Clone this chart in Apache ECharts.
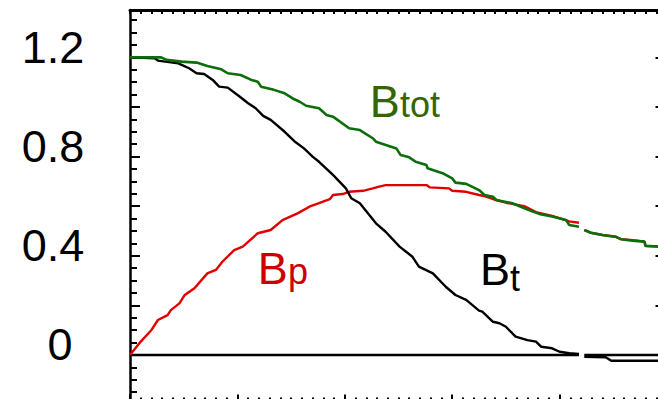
<!DOCTYPE html>
<html>
<head>
<meta charset="utf-8">
<script src="https://cdn.jsdelivr.net/npm/echarts@6/dist/echarts.min.js"></script>
<style>
  html, body { margin: 0; padding: 0; background: #fff; }
  #chart { width: 658px; height: 399px; }
</style>
</head>
<body>
<div id="chart"></div>
<script>
// Field components across the tube: total, poloidal and toroidal.
// Each entry is [position, field]; null marks the break in the sampled profile.
const bTotal = [
  [0.00, 1.200], [0.29, 1.200], [0.34, 1.190], [0.48, 1.183], [0.62, 1.179], [0.72, 1.165],
  [0.85, 1.152], [0.91, 1.136], [1.03, 1.129], [1.13, 1.109], [1.19, 1.102], [1.22, 1.082],
  [1.34, 1.069], [1.44, 1.055], [1.53, 1.031], [1.58, 1.021], [1.64, 1.005], [1.76, 0.995],
  [1.83, 0.968], [1.89, 0.961], [2.04, 0.914], [2.14, 0.907], [2.26, 0.874], [2.29, 0.860],
  [2.48, 0.833], [2.52, 0.806], [2.60, 0.797], [2.66, 0.779], [2.76, 0.766], [2.77, 0.753],
  [2.91, 0.733], [3.00, 0.712], [3.03, 0.695], [3.13, 0.690], [3.25, 0.665], [3.30, 0.645],
  [3.38, 0.638], [3.41, 0.625], [3.56, 0.612], [3.65, 0.596], [3.75, 0.578], [3.81, 0.569],
  [3.93, 0.558], [4.06, 0.544], [4.09, 0.524], [4.18, 0.517], [4.205, null], [4.23, 0.504],
  [4.29, 0.493], [4.40, 0.484], [4.52, 0.477], [4.57, 0.467], [4.68, 0.461], [4.79, 0.457],
  [4.80, 0.440], [4.93, 0.437]
];
const bPoloidal = [
  [0.00, 0.000], [0.10, 0.054], [0.20, 0.101], [0.26, 0.141], [0.35, 0.161], [0.38, 0.181],
  [0.46, 0.208], [0.51, 0.242], [0.60, 0.269], [0.72, 0.329], [0.80, 0.343], [0.86, 0.376],
  [0.97, 0.423], [1.05, 0.437], [1.19, 0.491], [1.31, 0.504], [1.42, 0.544], [1.56, 0.571],
  [1.67, 0.598], [1.76, 0.612], [1.86, 0.628], [1.89, 0.645], [1.98, 0.649], [2.04, 0.658],
  [2.17, 0.662], [2.26, 0.672], [2.32, 0.679], [2.38, 0.685], [2.76, 0.685], [2.79, 0.676],
  [2.97, 0.672], [3.00, 0.662], [3.13, 0.658], [3.25, 0.645], [3.30, 0.641], [3.39, 0.627],
  [3.50, 0.614], [3.67, 0.600], [3.78, 0.576], [3.93, 0.561], [4.09, 0.539], [4.18, 0.533],
  [4.205, null], [4.23, 0.504], [4.29, 0.493], [4.40, 0.484], [4.52, 0.477], [4.57, 0.467],
  [4.68, 0.463], [4.79, 0.457], [4.80, 0.440], [4.93, 0.437]
];
const bToroidal = [
  [0.00, 1.200], [0.23, 1.196], [0.26, 1.187], [0.45, 1.176], [0.55, 1.156], [0.62, 1.136],
  [0.69, 1.133], [0.77, 1.109], [0.83, 1.082], [0.91, 1.078], [1.02, 1.042], [1.10, 1.015],
  [1.17, 0.995], [1.24, 0.964], [1.31, 0.948], [1.44, 0.900], [1.53, 0.862], [1.62, 0.833],
  [1.70, 0.800], [1.76, 0.779], [1.89, 0.726], [2.01, 0.672], [2.06, 0.632], [2.14, 0.612],
  [2.29, 0.531], [2.38, 0.497], [2.51, 0.437], [2.63, 0.396], [2.69, 0.356], [2.82, 0.329],
  [2.94, 0.275], [3.03, 0.242], [3.13, 0.222], [3.25, 0.179], [3.28, 0.175], [3.38, 0.134],
  [3.44, 0.128], [3.50, 0.114], [3.59, 0.074], [3.70, 0.060], [3.78, 0.054], [3.83, 0.033],
  [3.93, 0.027], [4.00, 0.013], [4.09, 0.007], [4.18, 0.004], [4.205, null], [4.23, -0.007],
  [4.43, -0.009], [4.48, -0.023], [4.93, -0.023]
];
const zeroLevel = [[0.00, 0], [4.18, 0], [4.205, null], [4.23, 0], [4.93, 0]];
const yTickLabels = ['0', '0.4', '0.8', '1.2'];
const curveNames = {
  total: ['B', 'tot'],
  poloidal: ['B', 'p'],
  toroidal: ['B', 't']
};

const FONT = '"Liberation Sans", Arial, Helvetica, sans-serif';
const X_MIN = 0, X_MAX = 4.93, Y_MIN = -0.2, Y_MAX = 1.391;

const chart = echarts.init(document.getElementById('chart'), null, { renderer: 'svg' });

const tickStyle = { color: '#000', width: 2 };

function xAxisSide(position, major, minor, lineWidth) {
  return {
    type: 'value', position: position, min: X_MIN, max: X_MAX, interval: 1,
    axisLine: { show: true, onZero: false, lineStyle: { color: '#000', width: lineWidth } },
    axisTick: { show: true, inside: true, length: major, lineStyle: tickStyle },
    minorTick: { show: true, splitNumber: 10, length: minor, lineStyle: tickStyle },
    axisLabel: { show: false },
    splitLine: { show: false }, minorSplitLine: { show: false }
  };
}

function labelFor(v) {
  const hit = yTickLabels.find(t => Math.abs(parseFloat(t) - v) < 1e-6);
  if (hit === undefined) return '';
  return hit === '0' ? '{z|0}' : hit;
}

function curveLine(data, color, width) {
  return {
    type: 'line', data: data, xAxisIndex: 0, yAxisIndex: 0,
    symbol: 'none', showSymbol: false, smooth: false, connectNulls: false,
    lineStyle: { color: color, width: width }, silent: true
  };
}

function tag(x, y, text, size, color) {
  return {
    type: 'text', x: x, y: y, silent: true,
    style: {
      text: text, fill: color, fontSize: size, fontFamily: FONT,
      align: 'left', verticalAlign: 'middle', textAlign: 'left', textVerticalAlign: 'middle'
    }
  };
}

const option = {
  animation: false,
  backgroundColor: '#fff',
  grid: { left: 130, right: -1.5, top: 10, bottom: -5.6, containLabel: false, outerBoundsMode: 'none' },
  xAxis: [
    xAxisSide('bottom', 10, 7, 2.5),
    xAxisSide('top', 4, 4, 3)
  ],
  yAxis: [
    {
      type: 'value', position: 'left', min: Y_MIN, max: Y_MAX, interval: 0.2,
      axisLine: { show: true, onZero: false, lineStyle: { color: '#000', width: 2.5 } },
      axisTick: { show: true, inside: true, length: 10, lineStyle: tickStyle },
      minorTick: { show: true, splitNumber: 4, length: 7, lineStyle: tickStyle },
      splitLine: { show: false }, minorSplitLine: { show: false },
      axisLabel: {
        show: true, inside: false, margin: 77, align: 'center', verticalAlign: 'middle',
        padding: [0, 0, 20, 0],
        fontSize: 45, fontFamily: FONT, color: '#000',
        showMinLabel: true, showMaxLabel: false, hideOverlap: false,
        formatter: labelFor,
        rich: { z: { fontSize: 45, fontFamily: FONT, color: '#000', padding: [0, 0, 0, 14] } }
      }
    },
    {
      type: 'value', position: 'right', min: Y_MIN, max: Y_MAX, interval: 0.2,
      axisLine: { show: true, onZero: false, lineStyle: { color: '#000', width: 2.5 } },
      axisTick: { show: true, inside: true, length: 4, lineStyle: tickStyle },
      minorTick: { show: false },
      splitLine: { show: false },
      axisLabel: { show: false }
    }
  ],
  series: [
    curveLine(zeroLevel, '#000000', 2.6),
    curveLine(bPoloidal, '#e00000', 2.4),
    curveLine(bToroidal, '#000000', 2.4),
    curveLine(bTotal, '#0a6e0a', 2.6)
  ],
  graphic: [
    tag(369.7, 101.1, curveNames.total[0], 45, '#336600'),
    tag(400, 104.5, curveNames.total[1], 36, '#336600'),
    tag(257.7, 268.4, curveNames.poloidal[0], 45, '#cc0000'),
    tag(288, 271.5, curveNames.poloidal[1], 36, '#cc0000'),
    tag(480, 269.4, curveNames.toroidal[0], 45, '#000000'),
    tag(510, 278, curveNames.toroidal[1], 36, '#000000')
  ]
};

chart.setOption(option);
</script>
</body>
</html>
